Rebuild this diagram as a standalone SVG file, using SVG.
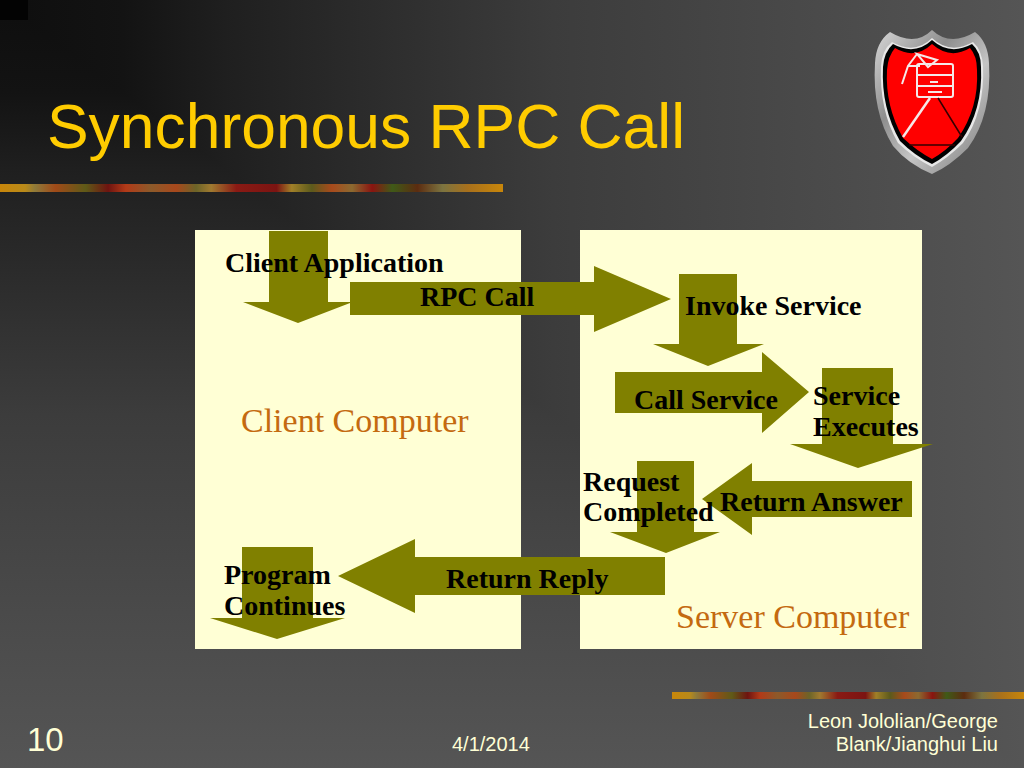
<svg xmlns="http://www.w3.org/2000/svg" width="1024" height="768" viewBox="0 0 1024 768">
<defs>
<linearGradient id="bgx" gradientUnits="userSpaceOnUse" x1="0" y1="0" x2="1024" y2="0">
<stop offset="0" stop-color="#0e0e0e"/><stop offset=".12" stop-color="#131313"/><stop offset=".22" stop-color="#1f1f1f"/><stop offset=".54" stop-color="#3c3c3c"/><stop offset="1" stop-color="#555"/>
</linearGradient>
<linearGradient id="bgy" gradientUnits="userSpaceOnUse" x1="0" y1="0" x2="0" y2="768">
<stop offset="0" stop-color="#0e0e0e"/><stop offset=".12" stop-color="#131313"/><stop offset=".22" stop-color="#1f1f1f"/><stop offset=".54" stop-color="#3c3c3c"/><stop offset="1" stop-color="#555"/>
</linearGradient>
<linearGradient id="strip">
<stop offset="0" stop-color="#c8860a"/><stop offset=".05" stop-color="#b98a1a"/><stop offset=".07" stop-color="#8f7a3a"/><stop offset=".11" stop-color="#a04a18"/><stop offset=".17" stop-color="#5f5a18"/><stop offset=".215" stop-color="#6e1410"/><stop offset=".25" stop-color="#b23a18"/><stop offset=".3" stop-color="#8c5a2a"/><stop offset=".35" stop-color="#a8481c"/><stop offset=".39" stop-color="#6c6428"/><stop offset=".42" stop-color="#a07a30"/><stop offset=".47" stop-color="#8a1a14"/><stop offset=".55" stop-color="#7c1412"/><stop offset=".58" stop-color="#a08028"/><stop offset=".62" stop-color="#5c5a1c"/><stop offset=".66" stop-color="#a84a1c"/><stop offset=".7" stop-color="#8c6a30"/><stop offset=".74" stop-color="#8a1410"/><stop offset=".78" stop-color="#3f5a18"/><stop offset=".83" stop-color="#5c2c10"/><stop offset=".88" stop-color="#7c7440"/><stop offset=".93" stop-color="#a8701c"/><stop offset="1" stop-color="#c8860a"/>
</linearGradient>
<linearGradient id="metal" x1="0" y1="0" x2="1" y2="1">
<stop offset="0" stop-color="#d8d8d8"/><stop offset=".35" stop-color="#8e8e8e"/><stop offset=".6" stop-color="#c4c4c4"/><stop offset="1" stop-color="#777"/>
</linearGradient>
<style>
.panel{fill:#ffffd5}
.arrow{fill:#808000}
.label{font-family:"Liberation Serif","Times New Roman",serif;font-weight:bold;font-size:28px;fill:#000}
.place{font-family:"Liberation Serif","Times New Roman",serif;font-size:34px;fill:#c46a10}
.head{font-family:"Liberation Sans",Arial,sans-serif;fill:#fc0}
.foot{font-family:"Liberation Sans",Arial,sans-serif;fill:#ffffd5}
</style>
</defs>
<rect width="1024" height="768" fill="url(#bgx)"/>
<polygon points="0,0 1024,768 0,768" fill="url(#bgy)"/>
<rect width="28" height="20" fill="#030303"/>
<g id="title"><text x="47" y="148" class="head" font-size="62.4">Synchronous RPC Call</text></g>
<rect id="rule-top" x="0" y="184" width="503" height="8" fill="url(#strip)"/>
<rect id="rule-bottom" x="672" y="692" width="352" height="7" fill="url(#strip)"/>
<g id="logo">
<path d="M875 63Q876 42 890 32Q915 47 932 30Q950 47 975 32Q988 42 989 63Q992 115 968 148Q950 166 932 174Q908 164 893 146Q872 112 875 63Z" fill="url(#metal)"/>
<path d="M881 66Q882 50 892 42Q915 55 932 38Q950 55 973 42Q982 50 983 66Q985 112 963 143Q948 158 932 167Q914 158 898 143Q879 110 881 66Z" fill="#e8e8e8"/>
<path d="M883 67Q884 52 893 44Q915 56 932 40Q950 56 972 44Q981 52 981 67Q983 110 961 141Q947 156 932 164Q915 156 900 141Q881 108 883 67Z" fill="#000"/>
<path d="M887 70Q888 56 895 48Q915 60 932 44Q950 60 970 48Q977 56 977 70Q979 108 958 138Q946 151 932 159Q917 151 903 138Q885 106 887 70Z" fill="#f00"/>
<g fill="none" stroke="#f5e8e8" stroke-width="2">
<rect x="917" y="64" width="36" height="33" rx="2"/>
<path d="M917 75H953M917 86H953M930 82H938M928 92H942"/>
<path d="M930 98L903 137" stroke-width="2.5"/>
<path d="M917 54L937 60L928 67L917 54ZM917 54L908 66L902 84M908 66L920 66"/>
</g>
<path d="M938 98L962 137M909 145H955" fill="none" stroke="#300" stroke-width="1.5"/>
</g>
<g id="client-computer">
<rect class="panel" x="195" y="230" width="326" height="419"/>
<text x="241" y="432" class="place">Client Computer</text>
</g>
<g id="server-computer">
<rect class="panel" x="580" y="230" width="342" height="419"/>
<text x="676" y="628" class="place">Server Computer</text>
</g>
<g id="connectors">
<path class="arrow" d="M269 231H328V302H350V303L298 323L243 302H269Z"/>
<path class="arrow" d="M350 282H594V266L671 299L594 332V315H350Z"/>
<path class="arrow" d="M679 274H737V344H764L708 366L653 344H679Z"/>
<path class="arrow" d="M615 372H762V352L809 392L762 433V413H615Z"/>
<path class="arrow" d="M822 368H893V444H933L858 468L790 444H822Z"/>
<path class="arrow" d="M912 481V517H752V535L702 499L752 463V481Z"/>
<path class="arrow" d="M637 461H694V532H720L666 553L610 532H637Z"/>
<path class="arrow" d="M665 557V595H415V613L338 576L415 539V557Z"/>
<path class="arrow" d="M242 547H313V618H345L277 639L210 618H242Z"/>
</g>
<g id="client-application"><text x="225" y="272" class="label">Client Application</text></g>
<g id="rpc-call"><text x="420" y="306" class="label">RPC Call</text></g>
<g id="invoke-service"><text x="685" y="315" class="label">Invoke Service</text></g>
<g id="call-service"><text x="634" y="409" class="label">Call Service</text></g>
<g id="service-executes"><text x="813" y="405" class="label">Service</text><text x="813" y="436" class="label">Executes</text></g>
<g id="request-completed"><text x="583" y="491" class="label">Request</text><text x="583" y="521" class="label">Completed</text></g>
<g id="return-answer"><text x="720" y="511" class="label">Return Answer</text></g>
<g id="return-reply"><text x="446" y="588" class="label">Return Reply</text></g>
<g id="program-continues"><text x="224" y="584" class="label">Program</text><text x="224" y="615" class="label">Continues</text></g>
<g id="footer">
<text x="27" y="751" class="foot" font-size="33">10</text>
<text x="452" y="751" class="foot" font-size="20">4/1/2014</text>
<text x="998" y="728" class="foot" font-size="20" text-anchor="end">Leon Jololian/George</text>
<text x="998" y="751" class="foot" font-size="20" text-anchor="end">Blank/Jianghui Liu</text>
</g>
</svg>
